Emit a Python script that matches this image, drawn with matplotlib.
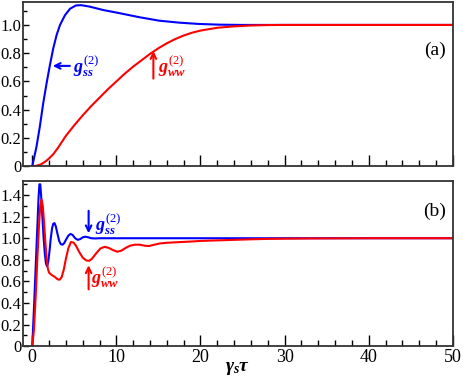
# g2 correlation functions, panels (a) and (b)
import matplotlib
matplotlib.use("Agg")
import matplotlib.pyplot as plt
from matplotlib.ticker import MultipleLocator, FuncFormatter

plt.rcParams['font.family'] = ['Liberation Serif', 'DejaVu Serif']
plt.rcParams['mathtext.fontset'] = 'custom'
plt.rcParams['mathtext.rm'] = 'Liberation Serif'
plt.rcParams['mathtext.it'] = 'Liberation Serif:italic:bold'
plt.rcParams['mathtext.bf'] = 'Liberation Serif:bold'

# panel (a)
xa_ss = [0, 0.5, 0.9, 1.3, 1.7, 2.1, 2.5, 2.9, 3.3, 3.9, 4.5, 5.2, 5.8, 6.8, 8.4, 10.4,
         12.7, 15.1, 17.5, 19.8, 22.2, 25, 30, 50]
ya_ss = [0, 0.137, 0.28, 0.445, 0.586, 0.716, 0.835, 0.93, 1.0, 1.07, 1.115, 1.138, 1.14,
         1.13, 1.106, 1.083, 1.055, 1.03, 1.016, 1.007, 1.002, 1.0, 1.0, 1.0]
xa_ww = [0, 0.5, 1, 1.5, 2, 2.5, 3, 3.5, 4, 5, 6, 7, 8, 9, 10, 11, 12, 13, 14, 15, 16,
         17, 18, 19, 20, 22, 24, 26, 28, 30, 50]
ya_ww = [0, 0.003, 0.012, 0.03, 0.055, 0.085, 0.125, 0.17, 0.215, 0.29, 0.36, 0.425,
         0.485, 0.545, 0.6, 0.655, 0.705, 0.75, 0.795, 0.835, 0.87, 0.9, 0.925, 0.945,
         0.96, 0.98, 0.99, 0.996, 0.999, 1.0, 1.0]

# panel (b)
xb_ss = [0, 0.2, 0.4, 0.6, 0.75, 0.85, 0.95, 1.05, 1.2, 1.35, 1.5, 1.62, 1.75, 1.9,
         2.05, 2.2, 2.35, 2.5, 2.65, 2.8, 3.0, 3.2, 3.4, 3.6, 3.8, 4.0, 4.3, 4.55, 4.8,
         5.1, 5.4, 5.7, 6.0, 6.3, 6.6, 7.0, 7.5, 8.0, 50]
yb_ss = [0, 0.35, 0.72, 1.1, 1.38, 1.5, 1.5, 1.4, 1.2, 1.0, 0.85, 0.77, 0.74, 0.78,
         0.88, 1.0, 1.09, 1.135, 1.14, 1.11, 1.04, 0.975, 0.945, 0.94, 0.955, 0.985,
         1.025, 1.04, 1.03, 1.0, 0.985, 0.992, 1.008, 1.014, 1.01, 1.0, 0.998, 1.0, 1.0]
xb_ww = [0, 0.2, 0.4, 0.6, 0.8, 0.95, 1.1, 1.25, 1.4, 1.55, 1.7, 1.85, 2.0, 2.3, 2.7,
         3.0, 3.25, 3.5, 3.75, 4.0, 4.3, 4.6, 4.9, 5.2, 5.6, 6.0, 6.4, 6.75, 7.1, 7.6,
         8.1, 8.6, 9.1, 9.6, 10.1, 10.6, 11.1, 11.6, 12.2, 12.8, 13.4, 13.9, 14.5, 15.2,
         16, 17, 18, 19, 20, 22, 24, 26, 28, 30, 33, 36, 40, 50]
yb_ww = [0, 0.15, 0.45, 0.8, 1.12, 1.3, 1.36, 1.3, 1.15, 0.97, 0.82, 0.72, 0.68, 0.66,
         0.64, 0.62, 0.615, 0.64, 0.71, 0.81, 0.91, 0.965, 0.96, 0.93, 0.87, 0.82, 0.795,
         0.79, 0.81, 0.86, 0.905, 0.92, 0.91, 0.89, 0.875, 0.885, 0.91, 0.93, 0.94, 0.94,
         0.93, 0.928, 0.94, 0.952, 0.958, 0.962, 0.966, 0.97, 0.975, 0.98, 0.985, 0.99,
         0.994, 0.996, 0.998, 0.999, 1.0, 1.0]

blue = '#0000ff'
red = '#ff0000'


def yfmt(v, pos):
    if abs(v) < 1e-9:
        return "0"
    return "%.1f" % v


def style(ax, ymax, ymajor):
    ax.set_xlim(-1.1, 50)
    ax.set_ylim(0, ymax)
    ax.xaxis.set_major_locator(MultipleLocator(10))
    ax.xaxis.set_minor_locator(MultipleLocator(2))
    ax.yaxis.set_major_locator(MultipleLocator(ymajor))
    ax.yaxis.set_minor_locator(MultipleLocator(0.1))
    ax.yaxis.set_major_formatter(FuncFormatter(yfmt))
    ax.tick_params(axis='x', which='major', direction='in', length=8, width=1, labelsize=13, pad=2)
    ax.tick_params(axis='x', which='minor', direction='in', length=4, width=1)
    ax.tick_params(axis='y', which='major', direction='in', length=4, width=1, labelsize=12, pad=1)
    ax.tick_params(axis='y', which='minor', direction='in', length=3, width=1)
    for s in ax.spines.values():
        s.set_linewidth(1.3)
        s.set_color('#333333')


fig = plt.figure(figsize=(4.63, 3.82), dpi=100)
ax1 = fig.add_axes([0.0497, 0.565, 0.9283, 0.43])
ax2 = fig.add_axes([0.0497, 0.094, 0.9283, 0.432])

# (a)
ax1.plot(xa_ss, ya_ss, color=blue, lw=1.5)
ax1.plot(xa_ww, ya_ww, color=red, lw=1.5)
style(ax1, 1.163, 0.2)
ax1.tick_params(axis='x', labelbottom=False)
ax1.annotate('', xy=(2.1, 0.71), xytext=(4.8, 0.71),
             arrowprops=dict(arrowstyle='->', color=blue, lw=1.5))
ax1.text(4.9, 0.71, r'$g^{(2)}_{ss}$', color=blue, fontsize=13, va='center')
ax1.annotate('', xy=(14.4, 0.835), xytext=(14.4, 0.6),
             arrowprops=dict(arrowstyle='->', color=red, lw=1.5))
ax1.text(15.0, 0.71, r'$g^{(2)}_{ww}$', color=red, fontsize=13, va='center')
ax1.text(49.2, 0.82, '(a)', fontsize=14, ha='right', va='center')

# (b)
ax2.plot(xb_ss, yb_ss, color=blue, lw=1.5)
ax2.plot(xb_ww, yb_ww, color=red, lw=1.5)
style(ax2, 1.53, 0.2)
ax2.annotate('', xy=(6.7, 1.02), xytext=(6.7, 1.28),
             arrowprops=dict(arrowstyle='->', color=blue, lw=1.5))
ax2.text(7.4, 1.13, r'$g^{(2)}_{ss}$', color=blue, fontsize=13, va='center')
ax2.annotate('', xy=(6.7, 0.775), xytext=(6.7, 0.5),
             arrowprops=dict(arrowstyle='->', color=red, lw=1.5))
ax2.text(7.0, 0.64, r'$g^{(2)}_{ww}$', color=red, fontsize=13, va='center')
ax2.text(49.2, 1.245, '(b)', fontsize=14, ha='right', va='center')
ax2.set_xlabel(r'$\gamma_s\tau$', fontsize=14)
ax2.xaxis.set_label_coords(0.5, -0.085)

fig.savefig('out.png', dpi=100)
